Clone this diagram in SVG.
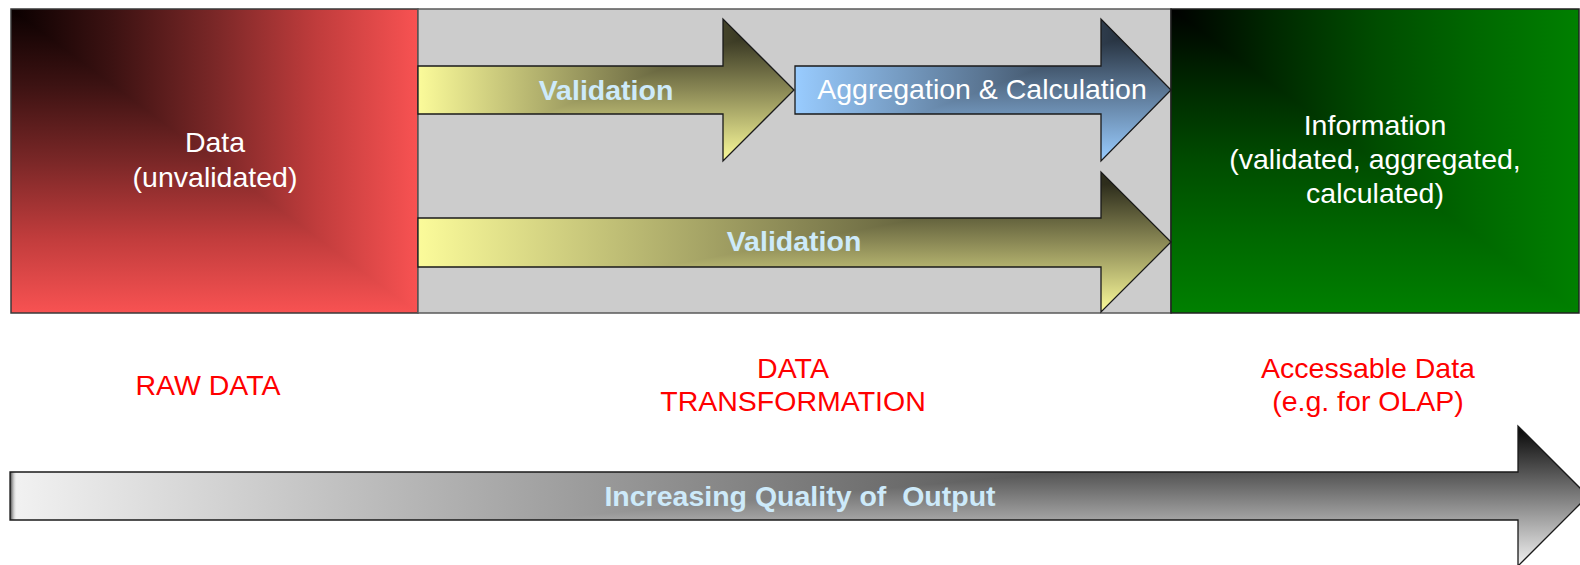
<svg xmlns="http://www.w3.org/2000/svg" width="1580" height="565" viewBox="0 0 1580 565">
<style>
.t{font-family:"Liberation Sans",Arial,sans-serif;font-size:28.5px;text-anchor:middle}
.w{fill:#ffffff}
.b{font-weight:bold;fill:#cdeafa}
.r{fill:#ff0000}
.edge{fill:none;stroke:#1a1a1a;stroke-width:1.3}
</style>
<defs>
<linearGradient id="redH" gradientUnits="userSpaceOnUse" x1="11" y1="0" x2="418" y2="0">
<stop offset="0" stop-color="#0a0000"/><stop offset="0.25" stop-color="#3c1212"/><stop offset="0.5" stop-color="#7a2727"/><stop offset="0.75" stop-color="#c03c3c"/><stop offset="1" stop-color="#f85252"/>
</linearGradient>
<linearGradient id="redV" gradientUnits="userSpaceOnUse" x1="0" y1="9" x2="0" y2="313">
<stop offset="0" stop-color="#0a0000"/><stop offset="0.25" stop-color="#3c1212"/><stop offset="0.5" stop-color="#7a2727"/><stop offset="0.75" stop-color="#c03c3c"/><stop offset="1" stop-color="#f85252"/>
</linearGradient>
<linearGradient id="grnH" gradientUnits="userSpaceOnUse" x1="1171" y1="0" x2="1579" y2="0">
<stop offset="0" stop-color="#000000"/><stop offset="0.25" stop-color="#002800"/><stop offset="0.5" stop-color="#004c00"/><stop offset="0.75" stop-color="#006800"/><stop offset="1" stop-color="#008000"/>
</linearGradient>
<linearGradient id="grnV" gradientUnits="userSpaceOnUse" x1="0" y1="9" x2="0" y2="313">
<stop offset="0" stop-color="#000000"/><stop offset="0.25" stop-color="#002800"/><stop offset="0.5" stop-color="#004c00"/><stop offset="0.75" stop-color="#006800"/><stop offset="1" stop-color="#008000"/>
</linearGradient>
<linearGradient id="y1H" gradientUnits="userSpaceOnUse" x1="418" y1="0" x2="794" y2="0">
<stop offset="0" stop-color="#fbfb9a"/><stop offset="0.5" stop-color="#8a8855"/><stop offset="1" stop-color="#1a1a10"/>
</linearGradient>
<linearGradient id="y1V" gradientUnits="userSpaceOnUse" x1="0" y1="19" x2="0" y2="161">
<stop offset="0" stop-color="#1a1a10"/><stop offset="0.5" stop-color="#8a8855"/><stop offset="1" stop-color="#fbfb9a"/>
</linearGradient>
<linearGradient id="b1H" gradientUnits="userSpaceOnUse" x1="795" y1="0" x2="1171" y2="0">
<stop offset="0" stop-color="#99ccff"/><stop offset="0.5" stop-color="#5a7592"/><stop offset="1" stop-color="#141a22"/>
</linearGradient>
<linearGradient id="b1V" gradientUnits="userSpaceOnUse" x1="0" y1="19" x2="0" y2="161">
<stop offset="0" stop-color="#141a22"/><stop offset="0.5" stop-color="#5a7592"/><stop offset="1" stop-color="#99ccff"/>
</linearGradient>
<linearGradient id="y2H" gradientUnits="userSpaceOnUse" x1="418" y1="0" x2="1171" y2="0">
<stop offset="0" stop-color="#fbfb9a"/><stop offset="0.5" stop-color="#8a8855"/><stop offset="1" stop-color="#1a1a10"/>
</linearGradient>
<linearGradient id="y2V" gradientUnits="userSpaceOnUse" x1="0" y1="172" x2="0" y2="312">
<stop offset="0" stop-color="#1a1a10"/><stop offset="0.5" stop-color="#8a8855"/><stop offset="1" stop-color="#fbfb9a"/>
</linearGradient>
<linearGradient id="gH" gradientUnits="userSpaceOnUse" x1="10" y1="0" x2="1588" y2="0">
<stop offset="0" stop-color="#f2f2f2"/><stop offset="1" stop-color="#050505"/>
</linearGradient>
<linearGradient id="gV" gradientUnits="userSpaceOnUse" x1="0" y1="426" x2="0" y2="566">
<stop offset="0" stop-color="#050505"/><stop offset="1" stop-color="#f2f2f2"/>
</linearGradient>
<linearGradient id="gEdge" x1="0" y1="0" x2="1" y2="0">
<stop offset="0" stop-color="#3a3a3a"/><stop offset="1" stop-color="#eeeeee" stop-opacity="0"/>
</linearGradient>
<clipPath id="cA1"><path d="M418,66 H723 V19 L794,90 L723,161 V114 H418 Z"/></clipPath>
<clipPath id="cA2"><path d="M795,66 H1101 V19 L1171,90 L1101,161 V114 H795 Z"/></clipPath>
<clipPath id="cA3"><path d="M418,218 H1101 V172 L1171,242 L1101,312 V267 H418 Z"/></clipPath>
<clipPath id="cA4"><path d="M10,472 H1518 V426 L1588,496 L1518,566 V520 H10 Z"/></clipPath>
</defs>

<g id="node-raw">
<rect x="11" y="9" width="407" height="304" fill="url(#redV)"/>
<polygon points="11,9 418,9 418,313" fill="url(#redH)"/>
<rect x="11" y="9" width="407" height="304" fill="none" stroke="#3a3a3a" stroke-width="1.5"/>
<text class="t w" x="215" y="152">Data</text>
<text class="t w" x="215" y="187">(unvalidated)</text>
</g>

<g id="node-transform">
<rect x="418" y="9" width="753" height="304" fill="#cccccc" stroke="#5a5a5a" stroke-width="1.5"/>
</g>

<g id="node-info">
<rect x="1171" y="9" width="408" height="304" fill="url(#grnV)"/>
<polygon points="1171,9 1579,9 1579,313" fill="url(#grnH)"/>
<rect x="1171" y="9" width="408" height="304" fill="none" stroke="#222222" stroke-width="1.5"/>
<text class="t w" x="1375" y="135">Information</text>
<text class="t w" x="1375" y="169">(validated, aggregated,</text>
<text class="t w" x="1375" y="203">calculated)</text>
</g>

<g id="connectors">
<g id="arrow-validation-top">
<g clip-path="url(#cA1)">
<rect x="418" y="19" width="376" height="142" fill="url(#y1V)"/>
<polygon points="418,19 794,19 418,161" fill="url(#y1H)"/>
</g>
<path class="edge" d="M418,66 H723 V19 L794,90 L723,161 V114 H418 Z"/>
<text class="t b" x="606" y="100">Validation</text>
</g>
<g id="arrow-aggregation">
<g clip-path="url(#cA2)">
<rect x="795" y="19" width="376" height="142" fill="url(#b1V)"/>
<polygon points="795,19 1171,19 795,161" fill="url(#b1H)"/>
</g>
<path class="edge" d="M795,66 H1101 V19 L1171,90 L1101,161 V114 H795 Z"/>
<text class="t w" x="982" y="99">Aggregation &amp; Calculation</text>
</g>
<g id="arrow-validation-bottom">
<g clip-path="url(#cA3)">
<rect x="418" y="172" width="753" height="140" fill="url(#y2V)"/>
<polygon points="418,172 1171,172 418,312" fill="url(#y2H)"/>
</g>
<path class="edge" d="M418,218 H1101 V172 L1171,242 L1101,312 V267 H418 Z"/>
<text class="t b" x="794" y="251">Validation</text>
</g>
</g>

<g id="labels">
<text class="t r" x="208" y="395">RAW DATA</text>
<text class="t r" x="793" y="378">DATA</text>
<text class="t r" x="793" y="411">TRANSFORMATION</text>
<text class="t r" x="1368" y="378">Accessable Data</text>
<text class="t r" x="1368" y="411">(e.g. for OLAP)</text>
</g>

<g id="quality-arrow">
<g clip-path="url(#cA4)">
<rect x="10" y="426" width="1578" height="140" fill="url(#gV)"/>
<polygon points="10,426 1588,426 10,566" fill="url(#gH)"/>
<rect x="10" y="472" width="7" height="48" fill="url(#gEdge)"/>
</g>
<path class="edge" d="M10,472 H1518 V426 L1588,496 L1518,566 V520 H10 Z"/>
<text class="t b" x="800" y="506" xml:space="preserve">Increasing Quality of  Output</text>
</g>
</svg>
